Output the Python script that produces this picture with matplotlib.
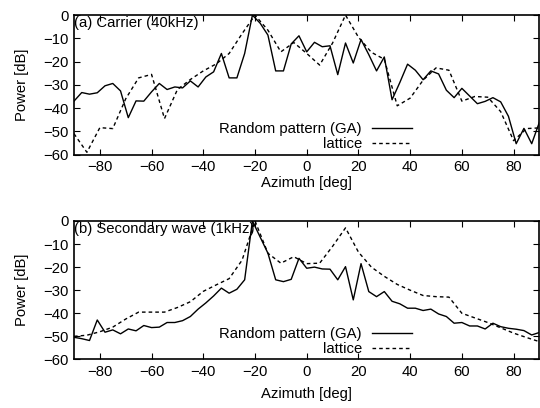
import matplotlib
matplotlib.use('Agg')
import matplotlib.pyplot as plt

plt.rcParams['font.family'] = ['Liberation Sans', 'DejaVu Sans']

# azimuth grids: GA pattern every 3 deg, lattice every 5 deg
az_ga = list(range(-90, 91, 3))
az_lat = list(range(-90, 91, 5))

# (a) carrier 40kHz
carrier_ga = [-37.0, -33.3, -34.0, -33.4, -30.4, -29.4, -32.6, -44.1, -36.9, -37.0,
              -33.0, -29.4, -32.0, -30.9, -31.3, -28.3, -30.9, -26.6, -24.4, -16.5,
              -27.0, -27.0, -16.5, 0.0, -3.5, -8.6, -24.0, -24.0, -12.4, -8.9,
              -15.8, -11.7, -13.6, -13.2, -25.6, -12.0, -20.6, -10.5, -17.0, -24.0,
              -18.0, -36.4, -29.0, -21.1, -23.7, -27.8, -24.0, -25.3, -32.3, -35.5,
              -31.5, -34.8, -38.1, -37.1, -35.5, -37.3, -43.5, -55.3, -48.7, -55.3,
              -46.0]
carrier_lat = [-51.0, -59.0, -48.4, -48.8, -36.0, -27.0, -25.5, -44.5, -32.0, -27.7,
               -24.0, -21.0, -16.5, -8.0, 0.0, -6.5, -15.8, -11.8, -16.5, -21.5,
               -12.0, 0.0, -9.5, -16.0, -19.0, -39.0, -35.7, -28.0, -22.7, -23.7,
               -37.0, -35.0, -35.3, -41.5, -54.0, -48.8, -48.5]

# (b) secondary wave 1kHz
second_ga = [-50.4, -51.0, -51.8, -42.9, -48.2, -47.2, -48.9, -46.8, -47.6, -45.3,
             -46.2, -46.0, -44.0, -44.0, -43.2, -41.4, -38.2, -35.5, -32.5, -29.1,
             -31.3, -29.6, -25.5, 0.0, -7.0, -14.0, -25.5, -26.3, -25.3, -16.2,
             -20.5, -20.0, -20.8, -20.9, -25.5, -19.8, -34.2, -18.5, -30.6, -32.8,
             -30.6, -34.8, -35.9, -37.8, -37.8, -38.8, -38.2, -40.3, -41.4, -44.3,
             -44.0, -45.5, -45.5, -46.8, -44.3, -45.8, -46.5, -46.9, -47.5, -49.4,
             -48.3]
second_lat = [-50.0, -49.5, -48.0, -46.0, -42.5, -39.5, -39.5, -39.5, -37.5, -35.0,
              -30.5, -27.7, -25.0, -17.0, 0.0, -14.0, -18.3, -15.5, -18.5, -18.3,
              -11.0, -3.0, -13.5, -20.0, -24.0, -27.5, -30.0, -32.3, -32.8, -33.0,
              -40.0, -42.0, -44.0, -46.3, -48.6, -50.5, -52.3]

titles = ['(a) Carrier (40kHz)', '(b) Secondary wave (1kHz)']
xticks = [-80, -60, -40, -20, 0, 20, 40, 60, 80]
yticks = [0, -10, -20, -30, -40, -50, -60]
fs = 10.7

fig = plt.figure(figsize=(5.4, 4.08), dpi=100)
ax1 = fig.add_axes([0.137, 0.621, 0.862, 0.342])
ax2 = fig.add_axes([0.137, 0.119, 0.862, 0.3395])

panels = [(ax1, carrier_ga, carrier_lat, 1.5), (ax2, second_ga, second_lat, 6)]
for i, (ax, ga, lat, xpad) in enumerate(panels):
    ax.plot(az_ga, ga, color='black', lw=1.0, label='Random pattern (GA)')
    ax.plot(az_lat, lat, color='black', lw=1.0, dashes=(2.6, 2.2), label='lattice')
    ax.set_xlim(-90, 90)
    ax.set_ylim(-60, 0)
    ax.set_xticks(xticks)
    ax.set_yticks(yticks)
    ax.tick_params(direction='in', top=True, right=True, length=4, width=0.8,
                   labelsize=fs, pad=4)
    for s in ax.spines.values():
        s.set_linewidth(1.2)
    ax.set_xlabel('Azimuth [deg]', fontsize=fs, labelpad=xpad)
    ax.set_ylabel('Power [dB]', fontsize=fs, labelpad=10)
    ax.text(0.0, 0.99, titles[i], transform=ax.transAxes, fontsize=fs,
            va='top', ha='left')
    ax.legend(loc='lower right', bbox_to_anchor=(0.727, 0.025), frameon=False,
              markerfirst=False, handlelength=2.7, fontsize=fs, borderpad=0,
              borderaxespad=0, labelspacing=0.05, handletextpad=0.7)

plt.savefig('out.png', dpi=100)
